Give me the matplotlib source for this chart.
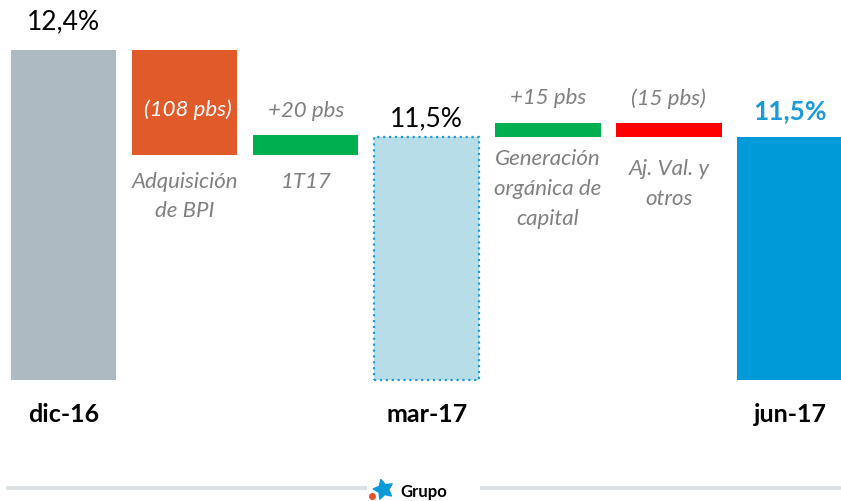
import numpy as np
import matplotlib.pyplot as plt

plt.rcParams['font.family'] = ['Lato', 'DejaVu Sans']

# CET1 fully loaded bridge, dic-16 -> jun-17
steps = ['dic-16', 'Adquisición\nde BPI', '1T17', 'mar-17',
         'Generación\norgánica de\ncapital', 'Aj. Val. y\notros', 'jun-17']
kinds = ['total', 'delta', 'delta', 'total', 'delta', 'delta', 'total']
totals = {0: 12.4, 3: 11.5, 6: 11.5}          # %
deltas_pbs = {1: -108, 2: 20, 4: 15, 5: -15}  # basis points

total_labels = ['12,4%', '11,5%', '11,5%']
delta_labels = ['(108 pbs)', '+20 pbs', '+15 pbs', '(15 pbs)']

base = 9.0      # cut-off of the value axis
ppu = 97.0      # pixels per percentage point

colors = ['#adbac1', '#e05a2a', '#00b050', '#b7dde8', '#00b050', '#ff0000', '#009ad9']
grey_txt = '#808080'

fig = plt.figure(figsize=(8.41, 5.01), dpi=100)
ax = fig.add_axes([0, 0, 1, 1])
ax.set_xlim(-0.524, 6.421)
ax.set_ylim(base - 121 / ppu, 12.4 + 50 / ppu)
ax.axis('off')

x = np.arange(len(steps))
w = 0.87
level = None
bottoms, tops = [], []
for i, k in enumerate(kinds):
    if k == 'total':
        level = totals[i]
        lo, hi = base, level
    else:
        new = level + deltas_pbs[i] / 100
        lo, hi = min(level, new), max(level, new)
        level = new
    bottoms.append(lo)
    tops.append(hi)

for i in range(len(steps)):
    if i == 3:
        ax.bar(x[i], tops[i] - bottoms[i], w, bottom=bottoms[i], color=colors[i],
               edgecolor='#1c9bd7', linestyle=':', linewidth=1.6)
    else:
        ax.bar(x[i], tops[i] - bottoms[i], w, bottom=bottoms[i], color=colors[i])

def px(p):
    return p / ppu

# totals: value above, date below
ax.text(x[0], tops[0] + px(28), total_labels[0], ha='center', va='center', fontsize=19)
ax.text(x[3], tops[3] + px(19), total_labels[1], ha='center', va='center', fontsize=19)
ax.text(x[6], tops[6] + px(26), total_labels[2], ha='center', va='center', fontsize=19,
        fontweight='bold', color='#1a9ad6')
for i in (0, 3, 6):
    ax.text(x[i], base - px(35), steps[i], ha='center', va='center', fontsize=18,
            fontweight='bold')

# deltas
it = dict(ha='center', va='center', fontsize=16, style='italic', color=grey_txt)
ax.text(x[1] + 0.03, tops[1] - px(60), delta_labels[0], **dict(it, color='white'))
ax.text(x[2], tops[2] + px(24), delta_labels[1], **it)
ax.text(x[4], tops[4] + px(25), delta_labels[2], **it)
ax.text(x[5], tops[5] + px(24), delta_labels[3], **it)

it_top = dict(it, va='top', linespacing=1.6)
ax.text(x[1], bottoms[1] - px(17), steps[1], **it_top)
ax.text(x[2], bottoms[2] - px(17), steps[2], **it_top)
ax.text(x[4], bottoms[4] - px(12), steps[4], **it_top)
ax.text(x[5], bottoms[5] - px(22), steps[5], **it_top)

# footer
fy = 13 / 501
fig.add_artist(plt.Line2D([8 / 841, 365 / 841], [fy, fy], color='#dde2e5', linewidth=3))
fig.add_artist(plt.Line2D([482 / 841, 1], [fy, fy], color='#dde2e5', linewidth=3))
fig.add_artist(plt.Line2D([383 / 841], [12 / 501], marker=(5, 1, 15), markersize=15,
                          color='#0a9ad7', linestyle='none'))
fig.add_artist(plt.Line2D([372 / 841], [5 / 501], marker='o', markersize=4,
                          color='#e8502a', linestyle='none'))
fig.text(400 / 841, 9 / 501, 'Grupo', fontsize=12, fontweight='bold',
         ha='left', va='center')

fig.savefig('out.png', dpi=100)
